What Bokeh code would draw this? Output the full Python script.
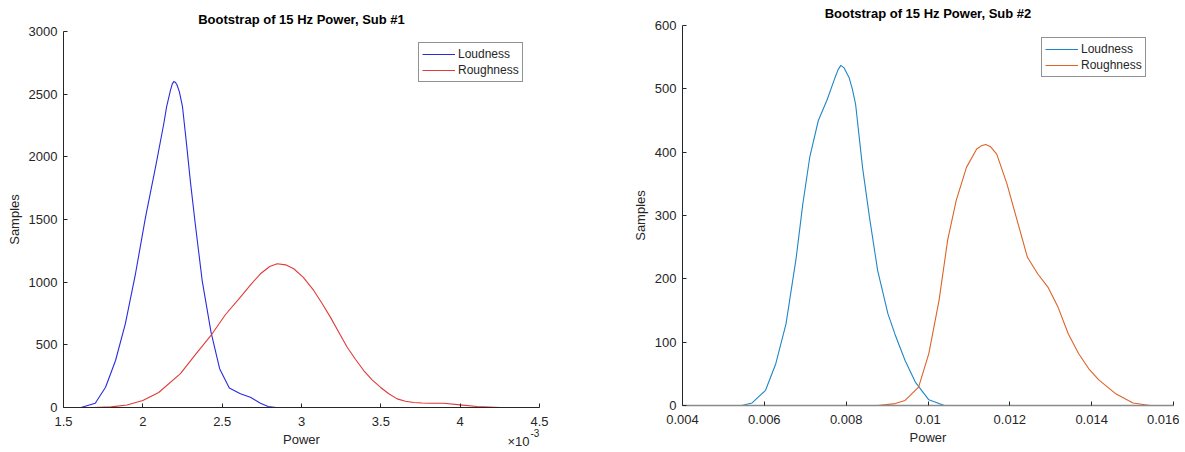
from bokeh.plotting import figure
from bokeh.layouts import row
from bokeh.models import (Legend, LegendItem, Label, FixedTicker,
                          CustomJSTickFormatter, Range1d)
from bokeh.embed import file_html
from bokeh.resources import INLINE

# ---------------- data ----------------
# Sub #1 : power in units of 1e-3
loud1_power = [1.61, 1.70, 1.765, 1.828, 1.89, 1.954, 2.017, 2.08, 2.132, 2.15, 2.174,
               2.185, 2.195, 2.205, 2.215, 2.23, 2.25, 2.273, 2.30, 2.33, 2.374, 2.43,
               2.484, 2.545, 2.615, 2.678, 2.741, 2.79, 2.84]
loud1_samples = [0, 34, 162, 375, 670, 1069, 1519, 1918, 2264, 2400, 2530,
                 2580, 2600, 2595, 2575, 2520, 2400, 2131, 1800, 1470, 1013, 600,
                 310, 155, 109, 82, 34, 8, 0]

rough1_power = [1.69, 1.80, 1.90, 2.00, 2.10, 2.237, 2.33, 2.437, 2.52, 2.615, 2.68,
                2.741, 2.80, 2.847, 2.90, 2.951, 3.01, 3.077, 3.13, 3.182, 3.235,
                3.288, 3.34, 3.392, 3.445, 3.497, 3.55, 3.603, 3.655, 3.707, 3.76,
                3.813, 3.896, 4.0, 4.107, 4.254]
rough1_samples = [0, 5, 20, 56, 120, 270, 420, 588, 740, 880, 980,
                  1067, 1125, 1147, 1138, 1107, 1040, 934, 830, 721, 600,
                  481, 385, 295, 220, 162, 110, 69, 50, 40, 36,
                  34, 34, 21, 8, 0]

# Sub #2 : power
loud2_power = [0.00545, 0.0057, 0.00603, 0.00628, 0.00653, 0.00678, 0.00694, 0.00711,
               0.00732, 0.00753, 0.00773, 0.0078, 0.00787, 0.00795, 0.00807, 0.00815,
               0.00823, 0.0084, 0.00857, 0.00877, 0.00902, 0.00919, 0.00944, 0.00969,
               0.01002, 0.0104]
loud2_samples = [0, 4, 24, 66, 129, 234, 318, 392,
                 450, 482, 518, 530, 537, 533, 518, 500,
                 476, 376, 297, 213, 145, 113, 71, 37,
                 9, 0]

rough2_power = [0.00877, 0.0092, 0.00944, 0.00977, 0.01002, 0.01027, 0.01048, 0.01069,
                0.01094, 0.01119, 0.0113, 0.01141, 0.01152, 0.01168, 0.01193, 0.01218,
                0.01243, 0.01268, 0.01293, 0.01318, 0.01343, 0.01368, 0.01393, 0.01418,
                0.0146, 0.01501, 0.01543]
rough2_samples = [0, 3, 8, 29, 82, 166, 261, 324,
                  376, 405, 410, 412, 409, 397, 350, 292,
                  234, 208, 187, 155, 113, 82, 58, 40,
                  18, 4, 0]

x1_ticks = [1.5, 2, 2.5, 3, 3.5, 4, 4.5]
y1_ticks = [0, 500, 1000, 1500, 2000, 2500, 3000]
x2_ticks = [0.004, 0.006, 0.008, 0.01, 0.012, 0.014, 0.016]
y2_ticks = [0, 100, 200, 300, 400, 500, 600]

titles = ["Bootstrap of 15 Hz Power, Sub #1", "Bootstrap of 15 Hz Power, Sub #2"]
series_names = ["Loudness", "Roughness"]
x1_multiplier = ("\u00d710", "-3")

FONT = "Liberation Sans"
TXT = "#262626"


def make_fig(width, height, left, right, top, bottom, xr, yr, xticks, yticks, title):
    p = figure(width=width, height=height, output_backend="svg", toolbar_location=None,
               x_range=Range1d(*xr), y_range=Range1d(*yr),
               min_border_left=left, min_border_right=right,
               min_border_top=top, min_border_bottom=bottom)
    p.title.text = title
    p.title.align = "center"
    p.title.text_font = FONT
    p.title.text_font_size = "13px"
    p.title.text_font_style = "bold"
    p.title.text_color = "#000000"
    p.outline_line_color = None
    p.grid.visible = False
    p.background_fill_color = "white"
    p.border_fill_color = "white"
    for ax, ticks in ((p.xaxis, xticks), (p.yaxis, yticks)):
        ax.ticker = FixedTicker(ticks=ticks)
        ax.formatter = CustomJSTickFormatter(
            code="return String(parseFloat(tick.toFixed(6)));")
        ax.major_tick_in = 4
        ax.major_tick_out = 0
        ax.minor_tick_line_color = None
        ax.axis_line_color = TXT
        ax.major_tick_line_color = TXT
        ax.major_label_text_font = FONT
        ax.major_label_text_font_size = "13px"
        ax.major_label_text_color = TXT
        ax.axis_label_text_font = FONT
        ax.axis_label_text_font_size = "13px"
        ax.axis_label_text_font_style = "normal"
        ax.axis_label_text_color = TXT
    p.xaxis.major_label_standoff = 9
    p.xaxis.axis_label_standoff = 3
    p.yaxis.major_label_standoff = 6
    p.yaxis.axis_label_standoff = 4
    p.xaxis.axis_label = "Power"
    p.yaxis.axis_label = "Samples"
    return p


def style_legend(lg, loc):
    lg.location = loc
    lg.glyph_width = 33
    lg.glyph_height = 16
    lg.label_height = 16
    lg.spacing = 0
    lg.padding = 3
    lg.margin = 0
    lg.label_standoff = 3
    lg.label_text_font = FONT
    lg.label_text_font_size = "12px"
    lg.label_text_color = TXT
    lg.border_line_color = TXT
    lg.border_line_width = 1
    lg.background_fill_color = "white"
    lg.background_fill_alpha = 1


# ---------------- left panel ----------------
p1 = make_fig(592, 452, 63, 53, 31, 45, (1.5, 4.5), (0, 3000), x1_ticks, y1_ticks,
              titles[0])
ra = p1.line(loud1_power, loud1_samples, line_color="#2a2ae0", line_width=1.1)
rb = p1.line(rough1_power, rough1_samples, line_color="#e03a3a", line_width=1.1)
lg1 = Legend(items=[LegendItem(label=n, renderers=[r])
                    for n, r in zip(series_names, [ra, rb])])
style_legend(lg1, (355, 325))
p1.add_layout(lg1)
p1.add_layout(Label(x=x1_ticks[-1], y=0, x_offset=-32, y_offset=-34, text=x1_multiplier[0],
                    text_align="left", text_baseline="middle", text_font=FONT,
                    text_font_size="13px", text_color=TXT), "right")
p1.add_layout(Label(x=x1_ticks[-1], y=0, x_offset=-9, y_offset=-25, text=x1_multiplier[1],
                    text_align="left", text_baseline="middle", text_font=FONT,
                    text_font_size="10px", text_color=TXT), "right")

# ---------------- right panel ----------------
p2 = make_fig(587, 456, 90, 6, 31, 45, (0.004, 0.016), (0, 600), x2_ticks, y2_ticks,
              titles[1])
p2.margin = (-6, 0, 0, 0)
p2.xaxis.axis_line_color = "#8a8a8a"
p2.xaxis.axis_line_width = 1.5
p2.line(loud2_power, loud2_samples, line_color="#1f86c6", line_width=1.1,
        legend_label=series_names[0])
p2.line(rough2_power, rough2_samples, line_color="#dd6328", line_width=1.1,
        legend_label=series_names[1])
style_legend(p2.legend[0], (359, 328))

layout = row(p1, p2, spacing=0)
open("out.html", "w").write(file_html(layout, INLINE))
